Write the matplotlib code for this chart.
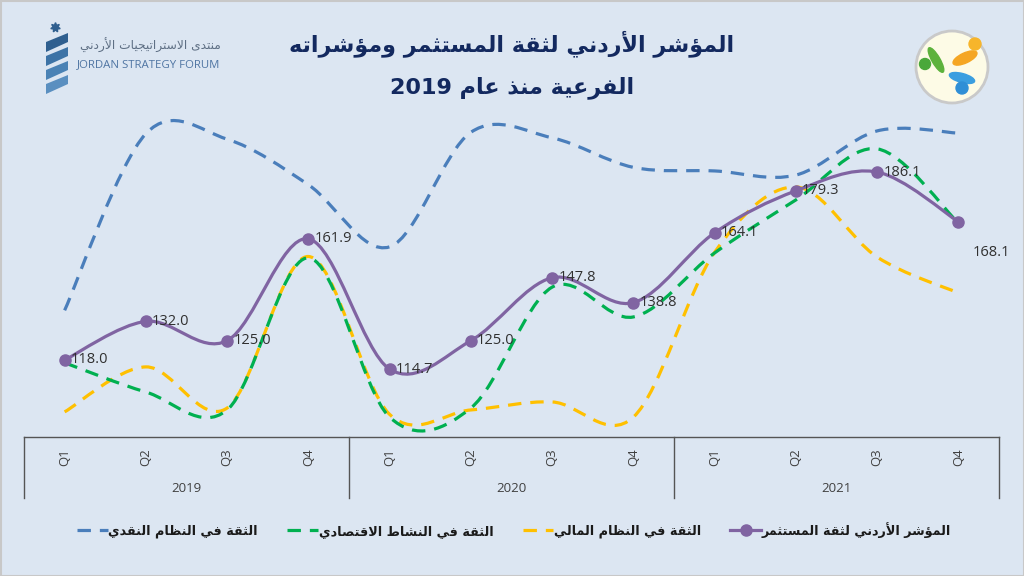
import re
import matplotlib
matplotlib.use("Agg")
import matplotlib.pyplot as plt
from matplotlib.path import Path
from matplotlib.patches import PathPatch, Circle, Polygon, Rectangle, Ellipse
from matplotlib.lines import Line2D
from matplotlib.transforms import blended_transform_factory

# ---------------- data ----------------
years = ["2019", "2020", "2021"]
quarters = ["Q1", "Q2", "Q3", "Q4"]
investor_index = [118.0, 132.0, 125.0, 161.9, 114.7, 125.0, 147.8, 138.8, 164.1, 179.3, 186.1, 168.1]
financial_conf = [99.2, 115.5, 100.6, 155.5, 98.3, 99.9, 102.8, 97.3, 157.0, 180.7, 155.3, 142.3]
economic_conf = [117.0, 106.4, 99.9, 155.0, 97.3, 100.6, 144.4, 133.6, 156.8, 176.0, 194.5, 167.6]
monetary_conf = [136.0, 200.0, 198.0, 181.5, 159.0, 200.5, 198.5, 187.8, 186.5, 185.0, 201.0, 200.2]

title_l1 = "المؤشر الأردني لثقة المستثمر ومؤشراته"
title_l2 = "الفرعية منذ عام 2019"
name_index = "المؤشر الأردني لثقة المستثمر"
name_fin = "الثقة في النظام المالي"
name_eco = "الثقة في النشاط الاقتصادي"
name_mon = "الثقة في النظام النقدي"
jsf_ar = "منتدى الاستراتيجيات الأردني"
jsf_en = "JORDAN STRATEGY FORUM"

# ---------------- Arabic shaping (presentation forms) ----------------
_table = [("\u0621", 0xFE80, 1), ("\u0622", 0xFE81, 2), ("\u0623", 0xFE83, 2), ("\u0624", 0xFE85, 2),
          ("\u0625", 0xFE87, 2), ("\u0626", 0xFE89, 4), ("\u0627", 0xFE8D, 2), ("\u0628", 0xFE8F, 4),
          ("\u0629", 0xFE93, 2), ("\u062A", 0xFE95, 4), ("\u062B", 0xFE99, 4), ("\u062C", 0xFE9D, 4),
          ("\u062D", 0xFEA1, 4), ("\u062E", 0xFEA5, 4), ("\u062F", 0xFEA9, 2), ("\u0630", 0xFEAB, 2),
          ("\u0631", 0xFEAD, 2), ("\u0632", 0xFEAF, 2), ("\u0633", 0xFEB1, 4), ("\u0634", 0xFEB5, 4),
          ("\u0635", 0xFEB9, 4), ("\u0636", 0xFEBD, 4), ("\u0637", 0xFEC1, 4), ("\u0638", 0xFEC5, 4),
          ("\u0639", 0xFEC9, 4), ("\u063A", 0xFECD, 4), ("\u0641", 0xFED1, 4), ("\u0642", 0xFED5, 4),
          ("\u0643", 0xFED9, 4), ("\u0644", 0xFEDD, 4), ("\u0645", 0xFEE1, 4), ("\u0646", 0xFEE5, 4),
          ("\u0647", 0xFEE9, 4), ("\u0648", 0xFEED, 2), ("\u0649", 0xFEEF, 2), ("\u064A", 0xFEF1, 4)]
FORMS = {c: [chr(b + k) for k in range(n)] for c, b, n in _table}
LAMALEF = {"\u0622": 0xFEF5, "\u0623": 0xFEF7, "\u0625": 0xFEF9, "\u0627": 0xFEFB}


def ar(s):
    toks = []
    i = 0
    while i < len(s):
        c = s[i]
        if c == "\u0644" and i + 1 < len(s) and s[i + 1] in LAMALEF:
            b = LAMALEF[s[i + 1]]
            toks.append([chr(b), chr(b + 1)])
            i += 2
        else:
            toks.append(FORMS.get(c, c))
            i += 1
    out = []
    for j, t in enumerate(toks):
        if isinstance(t, str):
            out.append(t)
            continue
        prev = toks[j - 1] if j > 0 else None
        nxt = toks[j + 1] if j + 1 < len(toks) else None
        jp = isinstance(prev, list) and len(prev) == 4 and len(t) >= 2
        jn = len(t) == 4 and isinstance(nxt, list) and len(nxt) >= 2
        if jp and jn:
            out.append(t[3])
        elif jp:
            out.append(t[1])
        elif jn:
            out.append(t[2])
        else:
            out.append(t[0])
    vis = "".join(out)[::-1]
    vis = re.sub(r"[0-9A-Za-z.]+", lambda m: m.group(0)[::-1], vis)
    return vis


# ---------------- figure ----------------
W, H = 1024, 576
BG = "#dce6f2"
fig = plt.figure(figsize=(W / 100, H / 100), dpi=100, facecolor=BG)
AR_FONT = ["DejaVu Sans"]
NUM_FONT = ["Open Sans", "DejaVu Sans"]


def fy(py):
    return 1 - py / H


def fx(px):
    return px / W


ax = fig.add_axes([fx(24), fy(437), fx(999) - fx(24), fy(100) - fy(437)])
ax.set_facecolor("none")
n = len(investor_index)
xs = list(range(n))
ax.set_xlim(-0.5, n - 0.5)
ax.set_ylim(90.1, 212.2)
for s in ["left", "right", "top", "bottom"]:
    ax.spines[s].set_visible(False)
ax.set_xticks([])
ax.set_yticks([])


def smooth_path(x, y):
    pts = list(zip(x, y))
    verts = [pts[0]]
    codes = [Path.MOVETO]
    m = len(pts)
    for i in range(m - 1):
        p0 = pts[i - 1] if i > 0 else pts[i]
        p1 = pts[i]
        p2 = pts[i + 1]
        p3 = pts[i + 2] if i + 2 < m else pts[i + 1]
        c1 = (p1[0] + (p2[0] - p0[0]) / 6, p1[1] + (p2[1] - p0[1]) / 6)
        c2 = (p2[0] - (p3[0] - p1[0]) / 6, p2[1] - (p3[1] - p1[1]) / 6)
        verts += [c1, c2, p2]
        codes += [Path.CURVE4] * 3
    return Path(verts, codes)


C_MON = "#4a7ebb"
C_ECO = "#00b050"
C_FIN = "#ffc000"
C_IDX = "#8064a2"
DASH = (0, (4.2, 2.8))
LW = 2.3

for vals, col, z in [(monetary_conf, C_MON, 2), (financial_conf, C_FIN, 3), (economic_conf, C_ECO, 4)]:
    ax.add_patch(PathPatch(smooth_path(xs, vals), fill=False, edgecolor=col, lw=LW,
                           linestyle=DASH, zorder=z, capstyle="butt"))
ax.add_patch(PathPatch(smooth_path(xs, investor_index), fill=False, edgecolor=C_IDX, lw=LW,
                       linestyle="-", zorder=5))
ax.plot(xs, investor_index, "o", color=C_IDX, ms=8, zorder=6, linestyle="none")

for i, v in enumerate(investor_index):
    if i == n - 1:
        ax.annotate(f"{v:.1f}", (i, v), xytext=(10, -22), textcoords="offset points",
                    ha="left", va="center", fontsize=10.5, color="#303030", family=NUM_FONT, zorder=7)
    else:
        ax.annotate(f"{v:.1f}", (i, v), xytext=(4.5, 0), textcoords="offset points",
                    ha="left", va="center", fontsize=10.5, color="#303030", family=NUM_FONT, zorder=7)

# ---------------- category axis ----------------
tr = blended_transform_factory(ax.transData, fig.transFigure)
AXC = "#555555"
ax.plot([-0.5, n - 0.5], [fy(437), fy(437)], color=AXC, lw=1.0, transform=tr, clip_on=False)
for b in [-0.5, 3.5, 7.5, 11.5]:
    ax.plot([b, b], [fy(437), fy(498)], color=AXC, lw=1.0, transform=tr, clip_on=False)
for i in range(n):
    ax.text(i, fy(457), quarters[i % 4], rotation=90, ha="center", va="center", fontsize=9.5,
            color="#404040", family=NUM_FONT, transform=tr)
for k, yr in enumerate(years):
    ax.text(4 * k + 1.5, fy(488), yr, ha="center", va="center", fontsize=9.5, color="#404040",
            family=NUM_FONT, transform=tr)

# ---------------- title ----------------
TC = "#13295f"
fig.text(0.5, fy(44), ar(title_l1), ha="center", va="center", fontsize=16, fontweight="bold",
         color=TC, family=AR_FONT)
fig.text(0.5, fy(88), ar(title_l2), ha="center", va="center", fontsize=16, fontweight="bold",
         color=TC, family=AR_FONT)

# ---------------- legend ----------------
handles = [
    Line2D([], [], color=C_MON, lw=LW, linestyle=DASH),
    Line2D([], [], color=C_ECO, lw=LW, linestyle=DASH),
    Line2D([], [], color=C_FIN, lw=LW, linestyle=DASH),
    Line2D([], [], color=C_IDX, lw=LW, marker="o", ms=8),
]
labels = [ar(name_mon), ar(name_eco), ar(name_fin), ar(name_index)]
leg = fig.legend(handles, labels, loc="center", bbox_to_anchor=(fx(514), fy(530)), ncol=4,
                 frameon=False, handlelength=2.4, columnspacing=2.3, handletextpad=0.05,
                 prop={"family": AR_FONT, "weight": "bold", "size": 9.2})
for t in leg.get_texts():
    t.set_color("#1a1a1a")

# ---------------- logos ----------------
lg = fig.add_axes([0, 0, 1, 1], facecolor="none")
lg.set_xlim(0, W)
lg.set_ylim(H, 0)
lg.axis("off")
# left logo stripes
for k in range(4):
    y0 = 36 + k * 14
    lg.add_patch(Polygon([[46, y0 + 6], [68, y0 - 3], [68, y0 + 6], [46, y0 + 16]],
                         closed=True, color=["#2f5f8f", "#3d73a6", "#4a82b5", "#5a8fc0"][k], lw=0))
lg.plot([55], [27], marker=(7, 1, 0), ms=7, color="#2f5f8f")
lg.text(221, 45, ar(jsf_ar), ha="right", va="center", fontsize=8.8, color="#5e6f84", family=AR_FONT)
lg.text(149, 65, jsf_en, ha="center", va="center", fontsize=8.2, color="#4f75a3", family=NUM_FONT)
# right logo
lg.add_patch(Circle((952, 67), 36, facecolor="#fdfbe6", edgecolor="#c9c9c9", lw=2))
lg.add_patch(Ellipse((965, 58), 26, 10, angle=-25, color="#f5a623"))
lg.add_patch(Circle((975, 44), 6, color="#f7b52b"))
lg.add_patch(Ellipse((936, 60), 8, 28, angle=-30, color="#5db23c"))
lg.add_patch(Circle((925, 64), 5.5, color="#4aa83a"))
lg.add_patch(Ellipse((962, 78), 26, 9, angle=15, color="#3a9ee0"))
lg.add_patch(Circle((962, 88), 6, color="#2f8fd6"))

# border
lg.add_patch(Rectangle((0.5, 0.5), W - 1, H - 1, fill=False, edgecolor="#c8c8c8", lw=1.5))

fig.savefig("out.png", dpi=100, facecolor=BG)
